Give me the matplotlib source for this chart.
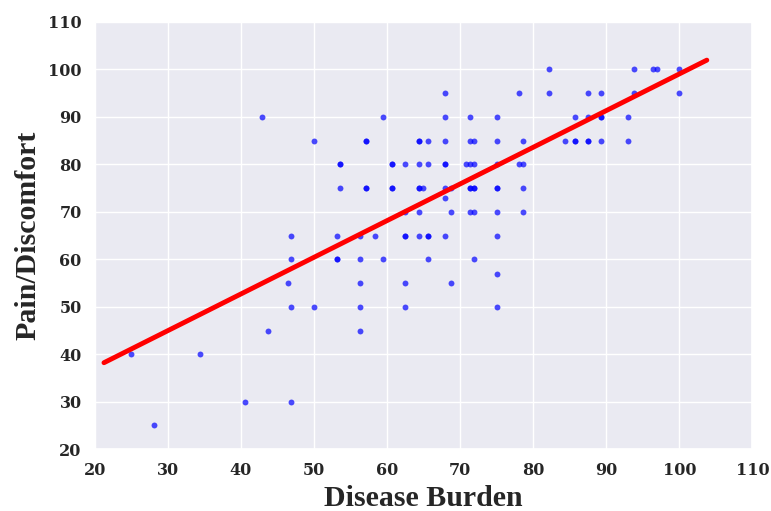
import numpy as np
import pandas as pd
import seaborn as sns
import matplotlib
matplotlib.use("Agg")
import matplotlib.pyplot as plt

# values (duplicates = darker dots)
disease_burden = [
    25.0, 28.1, 34.4, 40.6, 42.9, 43.75, 46.4, 46.9, 46.9, 46.9, 46.9,
    50.0, 50.0,
    53.1, 53.1, 53.1, 53.6, 53.6, 53.6,
    56.25, 56.25, 56.25, 56.25, 56.25,
    57.1, 57.1, 57.1, 57.1, 58.3, 59.4, 59.4,
    60.7, 60.7, 60.7, 60.7,
    62.5, 62.5, 62.5, 62.5, 62.5, 62.5,
    64.3, 64.3, 64.3, 64.3, 64.3, 64.3, 64.3, 64.9,
    65.6, 65.6, 65.6, 65.6, 65.6,
    67.9, 67.9, 67.9, 67.9, 67.9, 67.9, 67.9, 67.9,
    68.75, 68.75, 68.75,
    70.8, 71.4, 71.4, 71.9, 71.4, 71.9, 71.4, 71.9, 71.4, 71.9, 71.4, 71.9, 71.9,
    75.0, 75.0, 75.0, 75.0, 75.0, 75.0, 75.0, 75.0, 75.0,
    78.1, 78.6, 78.1, 78.6, 78.6, 78.6,
    82.1, 82.1,
    84.4, 85.7, 85.7, 85.7, 87.5, 87.5, 87.5, 87.5,
    89.3, 89.3, 89.3, 89.3, 92.9, 92.9,
    93.75, 93.75, 96.4, 96.9, 100.0, 100.0,
]
pain_discomfort = [
    40, 25, 40, 30, 90, 45, 55, 65, 60, 50, 30,
    85, 50,
    65, 60, 60, 80, 80, 75,
    65, 60, 55, 50, 45,
    85, 85, 75, 75, 65, 90, 60,
    80, 80, 75, 75,
    80, 70, 65, 65, 55, 50,
    85, 85, 80, 75, 75, 70, 65, 75,
    85, 80, 65, 65, 60,
    95, 90, 85, 80, 80, 75, 73, 65,
    75, 70, 55,
    80, 90, 85, 85, 80, 80, 75, 75, 70, 70, 75, 75, 60,
    90, 85, 80, 75, 75, 70, 65, 57, 50,
    95, 85, 80, 80, 75, 70,
    100, 95,
    85, 90, 85, 85, 95, 90, 85, 85,
    95, 90, 90, 85, 90, 85,
    100, 95, 100, 100, 100, 95,
]

df = pd.DataFrame({"Disease Burden": disease_burden,
                   "Pain/Discomfort": pain_discomfort})

sns.set_theme(style="darkgrid")
plt.rcParams["font.family"] = ["Liberation Serif", "DejaVu Serif"]
plt.rcParams["font.weight"] = "bold"

fig = plt.figure(figsize=(7.71, 5.11), dpi=100)
ax = fig.add_axes([0.123, 0.121, 0.853, 0.836])

sns.regplot(data=df, x="Disease Burden", y="Pain/Discomfort", ax=ax,
            ci=None, truncate=False,
            scatter_kws={"color": "blue", "alpha": 0.7, "s": 18, "linewidths": 0},
            line_kws={"color": "red", "linewidth": 3.5})

ax.set_xlim(20, 110)
ax.set_ylim(20, 110)
ax.set_xticks(range(20, 111, 10))
ax.set_yticks(range(20, 111, 10))
ax.tick_params(labelsize=11.5)
for lbl in ax.get_xticklabels() + ax.get_yticklabels():
    lbl.set_fontweight("bold")
    lbl.set_family("DejaVu Serif")
ax.set_xlabel("Disease Burden", fontsize=21.5, fontweight="bold", labelpad=4)
ax.set_ylabel("Pain/Discomfort", fontsize=21.5, fontweight="bold", labelpad=5)

fig.savefig("out.png", dpi=100)
